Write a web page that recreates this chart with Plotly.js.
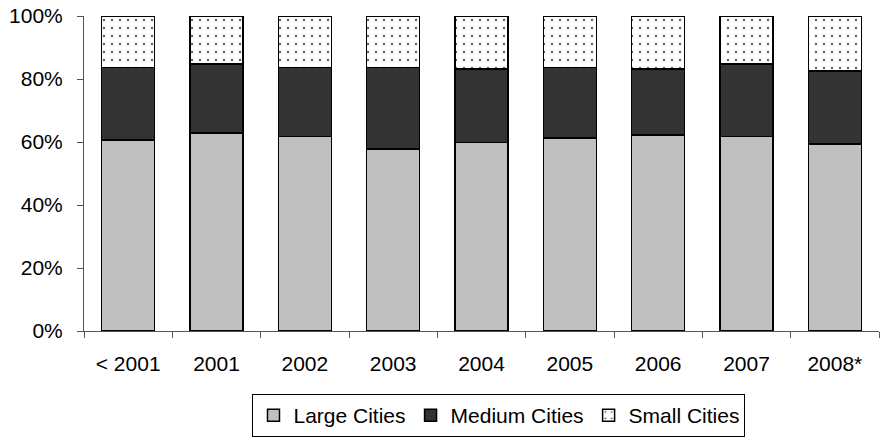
<!DOCTYPE html>
<html>
<head>
<meta charset="utf-8">
<script src="https://cdn.plot.ly/plotly-3.0.1.min.js"></script>
<style>
  html, body { margin: 0; padding: 0; background: #fff; }
  #chart { width: 884px; height: 437px; }
</style>
</head>
<body>
<div id="chart"></div>
<script>
// Share of each city size group by year (percent of total)
const years = ['< 2001', '2001', '2002', '2003', '2004', '2005', '2006', '2007', '2008*'];
const largeCities  = [60.6, 62.8, 61.7, 57.8, 59.9, 61.2, 62.2, 61.7, 59.4];
const mediumCities = [23.0, 21.9, 21.9, 25.8, 23.2, 22.4, 20.9, 23.0, 23.1];
const smallCities  = [16.4, 15.3, 16.4, 16.4, 16.9, 16.4, 16.9, 15.3, 17.5];
const yTicks = [0, 20, 40, 60, 80, 100];

const font = { family: 'Liberation Sans, Arial, sans-serif', size: 21, color: '#000' };
const outline = { color: '#000', width: 1.5 };

const traces = [
  {
    type: 'bar', name: 'Large Cities', x: years, y: largeCities,
    marker: { color: '#c0c0c0', line: outline }
  },
  {
    type: 'bar', name: 'Medium Cities', x: years, y: mediumCities,
    marker: { color: '#333333', line: outline }
  },
  {
    type: 'bar', name: 'Small Cities', x: years, y: smallCities,
    marker: {
      color: '#ffffff', line: outline,
      pattern: { shape: '.', fgcolor: '#666666', bgcolor: '#ffffff', size: 8, solidity: 0.08 }
    }
  }
];

const layout = {
  width: 884, height: 437,
  margin: { l: 84, r: 5, t: 16, b: 106, autoexpand: false },
  paper_bgcolor: '#fff', plot_bgcolor: '#fff',
  font: font,
  barmode: 'stack',
  bargap: 0.4,
  showlegend: true,
  legend: {
    orientation: 'h', traceorder: 'normal',
    x: 0.522, xanchor: 'center', y: -0.2, yanchor: 'top',
    bgcolor: '#fff', bordercolor: '#000', borderwidth: 1,
    font: font, itemwidth: 30
  },
  xaxis: {
    type: 'category',
    showline: true, linecolor: '#555', linewidth: 1,
    ticks: 'outside', tickson: 'boundaries', ticklen: 6, tickcolor: '#555', tickwidth: 1,
    ticklabelstandoff: 14,
    showgrid: false, zeroline: false,
    tickfont: font
  },
  yaxis: {
    range: [0, 100],
    tickvals: yTicks, ticktext: yTicks.map(v => v + '%'),
    showline: true, linecolor: '#555', linewidth: 1,
    ticks: 'outside', ticklen: 6, tickcolor: '#555', tickwidth: 1,
    ticklabelstandoff: 10,
    showgrid: false, zeroline: false,
    tickfont: font
  }
};

Plotly.newPlot('chart', traces, layout, { staticPlot: true, displayModeBar: false });
</script>
</body>
</html>
